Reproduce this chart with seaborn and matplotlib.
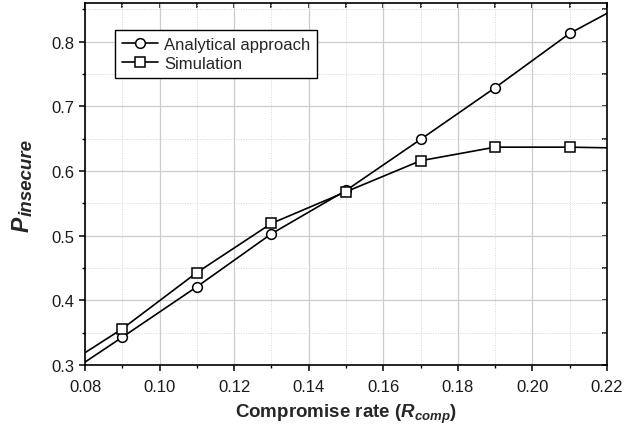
import matplotlib
matplotlib.use("Agg")
import matplotlib.pyplot as plt
import seaborn as sns
import pandas as pd

# Data
rate = [0.07, 0.09, 0.11, 0.13, 0.15, 0.17, 0.19, 0.21, 0.23]
analytical = [0.266, 0.343, 0.421, 0.503, 0.570, 0.649, 0.729, 0.813, 0.875]
simulation = [0.282, 0.356, 0.443, 0.519, 0.568, 0.616, 0.637, 0.637, 0.635]
series_names = ["Analytical approach", "Simulation"]
x_ticks = [0.08, 0.10, 0.12, 0.14, 0.16, 0.18, 0.20, 0.22]
y_ticks = [0.3, 0.4, 0.5, 0.6, 0.7, 0.8]
x_minor = [0.09, 0.11, 0.13, 0.15, 0.17, 0.19, 0.21]
y_minor = [0.35, 0.45, 0.55, 0.65, 0.75, 0.85]

sns.set_theme(style="white")
plt.rcParams["font.family"] = ["Liberation Sans", "DejaVu Sans"]
plt.rcParams["mathtext.fontset"] = "custom"
plt.rcParams["mathtext.it"] = "Liberation Sans:italic:bold"
plt.rcParams["mathtext.rm"] = "Liberation Sans:bold"
plt.rcParams["mathtext.bf"] = "Liberation Sans:bold"

df = pd.DataFrame({"rate": rate, series_names[0]: analytical, series_names[1]: simulation})

W, H = 638, 431
fig = plt.figure(figsize=(W / 100, H / 100), dpi=100)
ax = fig.add_axes([85 / W, 1 - 366 / H, (607 - 85) / W, (366 - 4) / H])

markers = ["o", "s"]
for name, mk in zip(series_names, markers):
    sns.lineplot(data=df, x="rate", y=name, ax=ax, color="black", lw=1.2,
                 marker=mk, markersize=7 if mk == "o" else 6.5,
                 markerfacecolor="white", markeredgecolor="black",
                 markeredgewidth=1.1, label=name, zorder=3)

ax.set_xlim(0.08, 0.22)
ax.set_ylim(0.3, 0.86)
ax.set_xticks(x_ticks)
ax.set_yticks(y_ticks)
ax.set_xticks(x_minor, minor=True)
ax.set_yticks(y_minor, minor=True)
ax.set_xticklabels([f"{v:.2f}" for v in x_ticks], fontsize=12)
ax.set_yticklabels([f"{v:.1f}" for v in y_ticks], fontsize=12)

ax.grid(True, which="major", color="#cccccc", lw=0.9, ls="-")
ax.grid(True, which="minor", color="#d6d6d6", lw=0.7, ls=(0, (1, 1.5)))
ax.set_axisbelow(True)

for s in ax.spines.values():
    s.set_color("black")
    s.set_linewidth(1.2)
    s.set_visible(True)

ax.tick_params(which="major", direction="out", length=4.5, width=1.1, color="black",
               bottom=True, left=True, top=False, right=False, pad=3.5, labelcolor="#1a1a1a")
ax.tick_params(axis="x", which="major", pad=5.5)
ax.tick_params(which="minor", direction="out", length=2.2, width=1.0, color="black",
               bottom=True, left=True, top=False, right=False)
# top / right inward ticks
sec_x = ax.secondary_xaxis("top")
sec_x.set_xticks(x_ticks + x_minor)
sec_x.tick_params(direction="in", length=3.5, width=1.1, labeltop=False, color="black")
sec_x.spines["top"].set_visible(False)
sec_y = ax.secondary_yaxis("right")
sec_y.set_yticks(y_ticks + y_minor)
sec_y.tick_params(direction="in", length=3.5, width=1.1, labelright=False, color="black")
sec_y.spines["right"].set_visible(False)

ax.set_xlabel(r"Compromise rate ($R_{comp}$)", fontsize=13.5, fontweight="bold", labelpad=5.5)
ax.set_ylabel("")
# y label: P with large subscript "insecure", bold italic
fig.text(22 / W, 1 - 224.5 / H, "P", rotation=90, fontsize=16.5, fontweight="bold",
         fontstyle="italic", ha="center", va="center")
fig.text(27 / W, 1 - 177.5 / H, "insecure", rotation=90, fontsize=13.5, fontweight="bold",
         fontstyle="italic", ha="center", va="center")

leg = ax.legend(loc="upper left", bbox_to_anchor=((115 - 85) / 522, (366 - 31) / 362), fontsize=12,
                frameon=True, fancybox=False, edgecolor="black", framealpha=1,
                handlelength=2.2, handletextpad=0.35, borderpad=0.4,
                labelspacing=0.25, borderaxespad=0)
leg.get_frame().set_linewidth(1.0)

fig.savefig("out.png", dpi=100)
